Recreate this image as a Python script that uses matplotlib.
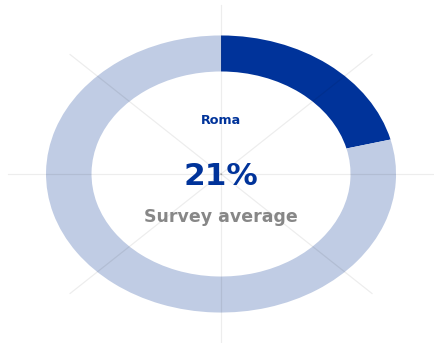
import numpy as np
import matplotlib.pyplot as plt

# Share of responses for Roma vs the rest
labels = ['Roma', 'Other']
shares = [21, 79]
colors = ['#00339a', '#c0cce4']

center_title = 'Roma'
center_value = '21%'
center_caption = 'Survey average'

# wide bold face, the centre labels are rather broad
plt.rcParams['font.family'] = ['DejaVu Sans']

fig = plt.figure(figsize=(4.34, 3.43), dpi=100)
ax = fig.add_axes([0, 0, 1, 1])

# Donut ring, starting at 12 o'clock and going clockwise
ax.pie(shares, colors=colors, startangle=90, counterclock=False,
       radius=1.0, wedgeprops=dict(width=0.26, linewidth=0))

# Faint radial grid: eight spokes at 45 degree steps, drawn over the ring
for ang in np.arange(0, 360, 45):
    t = np.deg2rad(ang)
    ax.plot([0, 1.22 * np.cos(t)], [0, 1.22 * np.sin(t)],
            color='#000000', alpha=0.07, linewidth=0.9, zorder=5)

# Stretch the ring into an ellipse filling the canvas
ax.set_aspect('auto')
ax.set_xlim(-1.263, 1.217)
ax.set_ylim(-1.22, 1.256)
ax.axis('off')

ax.text(0, 0.385, center_title, ha='center', va='center',
        fontsize=9.2, fontweight='bold', color='#00339a', zorder=6)
ax.text(0, -0.02, center_value, ha='center', va='center',
        fontsize=22.5, fontweight='bold', color='#00339a', zorder=6)
ax.text(0, -0.31, center_caption, ha='center', va='center',
        fontsize=12.5, fontweight='bold', color='#878787', zorder=6)

fig.savefig('out.png', dpi=100)
